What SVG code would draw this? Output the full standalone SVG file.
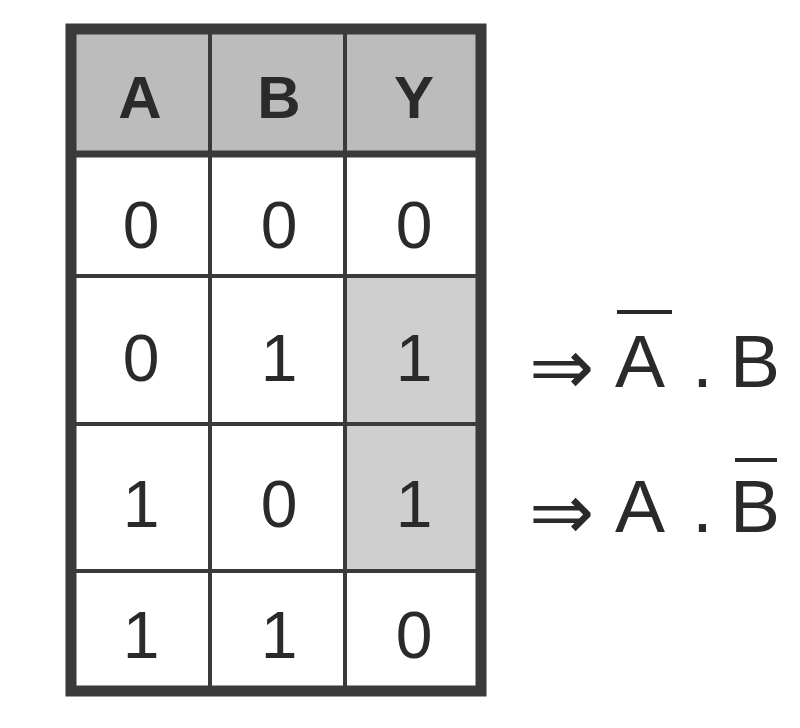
<svg xmlns="http://www.w3.org/2000/svg" width="800" height="728" viewBox="0 0 800 728">
<style>
.hdr{fill:#bcbcbc}
.shade{fill:#cfcfcf}
.grid{stroke:#3a3a3a;fill:none}
.h{font-family:"Liberation Sans",Arial,sans-serif;font-weight:bold;font-size:60px;fill:#2a2a2a;text-anchor:middle}
.d{font-family:"Liberation Sans",Arial,sans-serif;font-size:66px;fill:#2a2a2a;text-anchor:middle}
.e{font-family:"Liberation Sans",Arial,sans-serif;font-size:75px;fill:#2a2a2a}
.arr{font-family:"DejaVu Sans",sans-serif;font-size:78px;fill:#2a2a2a}
.bar{stroke:#2a2a2a;stroke-width:4}
</style>
<rect width="800" height="728" fill="#ffffff"/>
<g id="table">
<rect class="hdr" x="71" y="29" width="410" height="125"/>
<rect class="shade" x="345" y="276" width="136" height="295"/>
<g class="grid">
<line x1="71" y1="154" x2="481" y2="154" stroke-width="7"/>
<line x1="71" y1="276" x2="481" y2="276" stroke-width="4"/>
<line x1="71" y1="424" x2="481" y2="424" stroke-width="4"/>
<line x1="71" y1="571" x2="481" y2="571" stroke-width="4"/>
<line x1="210" y1="29" x2="210" y2="691" stroke-width="4"/>
<line x1="345" y1="29" x2="345" y2="691" stroke-width="4"/>
<rect x="71" y="29" width="410" height="662" stroke-width="11"/>
</g>
</g>
<g id="header">
<text class="h" x="140" y="118">A</text>
<text class="h" x="279" y="118">B</text>
<text class="h" x="414" y="118">Y</text>
</g>
<g id="row1">
<text class="d" x="141" y="248">0</text>
<text class="d" x="279" y="248">0</text>
<text class="d" x="414" y="248">0</text>
</g>
<g id="row2">
<text class="d" x="141" y="381">0</text>
<text class="d" x="279" y="381">1</text>
<text class="d" x="414" y="381">1</text>
</g>
<g id="row3">
<text class="d" x="141" y="527">1</text>
<text class="d" x="279" y="527">0</text>
<text class="d" x="414" y="527">1</text>
</g>
<g id="row4">
<text class="d" x="141" y="658">1</text>
<text class="d" x="279" y="658">1</text>
<text class="d" x="414" y="658">0</text>
</g>
<g id="expr1">
<text class="arr" x="529" y="394">⇒</text>
<text class="e" x="615" y="387">A</text>
<text class="e" x="692" y="387">.</text>
<text class="e" x="730" y="387">B</text>
<line class="bar" x1="617" y1="312" x2="672" y2="312"/>
</g>
<g id="expr2">
<text class="arr" x="529" y="539">⇒</text>
<text class="e" x="615" y="532">A</text>
<text class="e" x="692" y="532">.</text>
<text class="e" x="730" y="532">B</text>
<line class="bar" x1="735" y1="460" x2="777" y2="460"/>
</g>
</svg>
